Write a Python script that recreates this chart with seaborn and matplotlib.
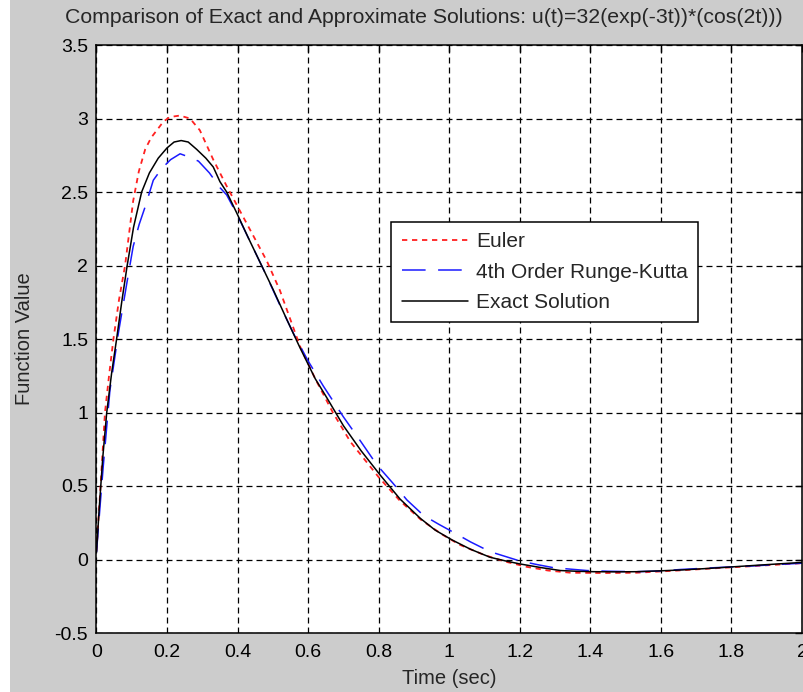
import matplotlib
matplotlib.use("Agg")
import matplotlib.pyplot as plt
from matplotlib.patches import Rectangle
import seaborn as sns

# values
t_euler = [0, 0.012, 0.024, 0.036, 0.048, 0.064, 0.081, 0.104, 0.12, 0.138, 0.155, 0.171,
           0.19, 0.208, 0.236, 0.265, 0.293, 0.331, 0.369, 0.407, 0.445, 0.483, 0.52, 0.577,
           0.62, 0.67, 0.72, 0.8, 0.86, 0.92, 0.98, 1.03, 1.1, 1.16, 1.22, 1.28, 1.344, 1.44,
           1.53, 1.64, 1.75, 1.86, 2.0]
u_euler = [0.06, 0.52, 1.0, 1.26, 1.5, 1.77, 2.0, 2.44, 2.64, 2.79, 2.87, 2.92,
           2.98, 3.01, 3.02, 3.0, 2.92, 2.72, 2.54, 2.37, 2.2, 2.03, 1.83, 1.45,
           1.23, 1.0, 0.8, 0.56, 0.4, 0.27, 0.17, 0.1, 0.03, -0.015, -0.05, -0.075, -0.09, -0.092,
           -0.09, -0.076, -0.06, -0.045, -0.025]

t_rk = [0, 0.01, 0.019, 0.038, 0.062, 0.086, 0.104, 0.121, 0.138, 0.161, 0.185, 0.21,
        0.237, 0.26, 0.289, 0.32, 0.35, 0.369, 0.4, 0.44, 0.48, 0.52, 0.56, 0.6, 0.643,
        0.7, 0.75, 0.795, 0.84, 0.88, 0.927, 0.97, 1.008, 1.06, 1.116, 1.16, 1.2, 1.25,
        1.296, 1.39, 1.45, 1.53, 1.6, 1.655, 1.75, 1.85, 2.0]
u_rk = [0.05, 0.36, 0.63, 1.15, 1.54, 1.88, 2.13, 2.28, 2.40, 2.58, 2.66, 2.72,
        2.76, 2.74, 2.71, 2.63, 2.53, 2.48, 2.34, 2.14, 1.94, 1.73, 1.53, 1.35, 1.18,
        0.97, 0.80, 0.643, 0.52, 0.405, 0.30, 0.24, 0.19, 0.12, 0.053, 0.02, -0.01, -0.035,
        -0.056, -0.075, -0.08, -0.083, -0.078, -0.068, -0.056, -0.045, -0.025]

t_exact = [0, 0.008, 0.018, 0.029, 0.043, 0.057, 0.072, 0.087, 0.105, 0.128, 0.15, 0.175,
           0.2, 0.22, 0.24, 0.26, 0.284, 0.31, 0.331, 0.35, 0.369, 0.398, 0.43, 0.464, 0.5,
           0.54, 0.577, 0.62, 0.653, 0.7, 0.75, 0.804, 0.861, 0.918, 0.96, 1.008, 1.06, 1.116,
           1.16, 1.2, 1.26, 1.315, 1.36, 1.41, 1.47, 1.53, 1.6, 1.66, 1.74, 1.81, 1.9, 2.0]
u_exact = [0.05, 0.36, 0.7, 1.0, 1.27, 1.5, 1.76, 2.0, 2.26, 2.5, 2.63, 2.73,
           2.80, 2.84, 2.85, 2.84, 2.79, 2.73, 2.67, 2.57, 2.50, 2.355, 2.19, 2.02, 1.84,
           1.63, 1.44, 1.23, 1.10, 0.91, 0.74, 0.575, 0.41, 0.28, 0.20, 0.133, 0.07, 0.015,
           -0.01, -0.03, -0.055, -0.075, -0.08, -0.083, -0.084, -0.083, -0.077, -0.071, -0.06, -0.049, -0.035, -0.02]

x_ticks = [0, 0.2, 0.4, 0.6, 0.8, 1, 1.2, 1.4, 1.6, 1.8, 2]
x_labels = ["0", "0.2", "0.4", "0.6", "0.8", "1", "1.2", "1.4", "1.6", "1.8", "2"]
y_ticks = [-0.5, 0, 0.5, 1, 1.5, 2, 2.5, 3, 3.5]
y_labels = ["-0.5", "0", "0.5", "1", "1.5", "2", "2.5", "3", "3.5"]

sns.set_style("white")
plt.rcParams['font.family'] = ['Liberation Sans', 'DejaVu Sans']
plt.rcParams['lines.scale_dashes'] = False

fig = plt.figure(figsize=(8.04, 6.92), dpi=100, facecolor="white")
fig.patches.append(Rectangle((10 / 804, 0), 1, 1, transform=fig.transFigure,
                             facecolor="#cccccc", edgecolor="none", zorder=-10))
ax = fig.add_axes([96.5 / 804, 59 / 692, 705.5 / 804, 588 / 692])
ax.set_facecolor("white")

sns.lineplot(x=t_euler, y=u_euler, ax=ax, color="#ff2020", lw=1.3,
             linestyle=(0, (3.8, 3.4)), sort=False, estimator=None, label="Euler")
sns.lineplot(x=t_rk, y=u_rk, ax=ax, color="#1a1aff", lw=1.1,
             linestyle=(0, (17, 9)), sort=False, estimator=None, label="4th Order Runge-Kutta")
sns.lineplot(x=t_exact, y=u_exact, ax=ax, color="black", lw=1.1,
             sort=False, estimator=None, label="Exact Solution")

ax.set_xlim(0, 2)
ax.set_ylim(-0.5, 3.5)
ax.set_xticks(x_ticks)
ax.set_xticklabels(x_labels)
ax.set_yticks(y_ticks)
ax.set_yticklabels(y_labels)
ax.grid(True, color="black", linestyle=(0, (4.3, 2.9)), lw=0.9)
ax.tick_params(direction="in", top=True, right=True, length=5, width=1,
               labelsize=14, colors="black")
ax.tick_params(axis="x", pad=8)
ax.tick_params(axis="y", pad=6)
for s in ax.spines.values():
    s.set_color("black")
    s.set_linewidth(1.1)

ax.set_xlabel("Time (sec)", fontsize=14.5, labelpad=6)
ax.set_ylabel("Function Value", fontsize=14.5, labelpad=15)
# title sits left of centre in the cropped reference, so place it by hand
fig.suptitle("Comparison of Exact and Approximate Solutions: u(t)=32(exp(-3t))*(cos(2t)))",
             x=65 / 804, y=1 - 8 / 692, ha="left", va="top", fontsize=15.3)

leg = ax.legend(loc="upper left", bbox_to_anchor=(0.418, 0.6995), borderaxespad=0,
                fontsize=15, frameon=True, fancybox=False, shadow=False,
                handlelength=3.2, handletextpad=0.35, labelspacing=0.55, borderpad=0.5)
leg.get_frame().set_edgecolor("black")
leg.get_frame().set_linewidth(1.1)
leg.get_frame().set_facecolor("white")
leg.get_frame().set_alpha(1)

fig.savefig("out.png", dpi=100, facecolor=fig.get_facecolor())
